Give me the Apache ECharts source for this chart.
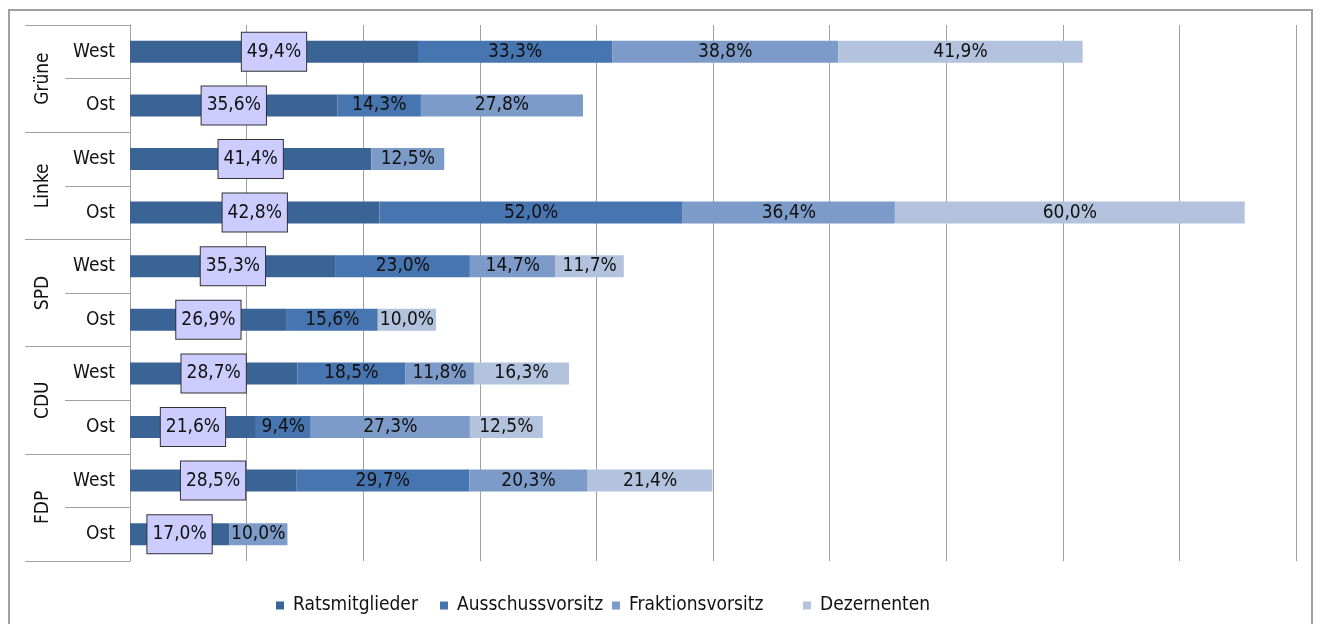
<!DOCTYPE html>
<html>
<head>
<meta charset="utf-8">
<script src="https://cdn.jsdelivr.net/npm/echarts@6/dist/echarts.min.js"></script>
<style>
    html, body { margin: 0; padding: 0; background: #fff; }
    #chart { width: 1319px; height: 624px; }
</style>
</head>
<body>
<div id="chart"></div>
<script>
// Daten
var groups = ['Grüne', 'Linke', 'SPD', 'CDU', 'FDP'];
var regions = ['West', 'Ost'];
var seriesNames = ['Ratsmitglieder', 'Ausschussvorsitz', 'Fraktionsvorsitz', 'Dezernenten'];
var ratsmitglieder = [49.4, 35.6, 41.4, 42.8, 35.3, 26.9, 28.7, 21.6, 28.5, 17.0];
var ausschussvorsitz = [33.3, 14.3, 0, 52.0, 23.0, 15.6, 18.5, 9.4, 29.7, 0];
var fraktionsvorsitz = [38.8, 27.8, 12.5, 36.4, 14.7, 0, 11.8, 27.3, 20.3, 10.0];
var dezernenten = [41.9, 0, 0, 60.0, 11.7, 10.0, 16.3, 12.5, 21.4, 0];
var colors = ['#3b6496', '#4775b0', '#7c9bc8', '#b3c3de'];
// x-Position der Legendeneintraege
var legendLeft = [276, 440, 612, 803];

var font = "'Liberation Sans Narrow', 'DejaVu Sans Condensed', sans-serif";

var categories = [];
for (var i = 0; i < groups.length; i++) {
    for (var j = 0; j < regions.length; j++) {
        categories.push(groups[i] + ' ' + regions[j]);
    }
}

function fmt(p) {
    if (!p.value) {
        return '';
    }
    return p.value.toFixed(1).replace('.', ',') + '%';
}

function makeSeries(idx, values) {
    var s = {
        name: seriesNames[idx],
        type: 'bar',
        stack: 'total',
        barWidth: 22,
        itemStyle: { color: colors[idx] },
        label: {
            show: true,
            position: 'inside',
            formatter: fmt,
            color: '#111',
            fontFamily: font,
            fontSize: 19
        },
        data: values
    };
    if (idx === 0) {
        // Ratsmitglieder mit Kasten
        s.label.backgroundColor = '#ccccff';
        s.label.borderColor = '#333';
        s.label.borderWidth = 1;
        s.label.padding = [10, 5, 9, 5];
    }
    return s;
}

// eine Legende pro Reihe
var legends = [];
for (var k = 0; k < seriesNames.length; k++) {
    legends.push({
        left: legendLeft[k],
        top: 596,
        padding: 0,
        icon: 'rect',
        itemWidth: 8,
        itemHeight: 8,
        textStyle: {
            fontFamily: font,
            fontSize: 19,
            color: '#111',
            padding: [0, 0, 0, 4]
        },
        data: [seriesNames[k]]
    });
}

var myChart = echarts.init(document.getElementById('chart'));
var option = {
    animation: false,
    grid: {
        left: 130,
        right: 23,
        top: 25,
        bottom: 63,
        containLabel: false,
        outerBoundsMode: 'none'
    },
    graphic: [{
        type: 'rect',
        shape: { x: 9, y: 10, width: 1303, height: 625 },
        style: { fill: 'none', stroke: '#a0a0a0', lineWidth: 2 }
    }],
    legend: legends,
    xAxis: {
        type: 'value',
        min: 0,
        max: 200,
        interval: 20,
        axisLabel: { show: false },
        axisLine: { show: false },
        axisTick: { show: false },
        splitLine: { show: true, lineStyle: { color: '#a0a0a0', width: 1 } }
    },
    yAxis: [{
        type: 'category',
        inverse: true,
        position: 'left',
        data: categories,
        axisLine: { show: true, lineStyle: { color: '#a0a0a0' } },
        axisTick: { show: true, interval: 0, length: 65, lineStyle: { color: '#a0a0a0' } },
        axisLabel: {
            margin: 15,
            interval: 0,
            color: '#111',
            fontFamily: font,
            fontSize: 19,
            formatter: function (v) {
                return v.split(' ')[1];
            }
        }
    }, {
        type: 'category',
        inverse: true,
        position: 'left',
        data: groups,
        axisLine: { show: false },
        axisTick: { show: true, interval: 0, length: 105, lineStyle: { color: '#a0a0a0' } },
        axisLabel: {
            rotate: 90,
            margin: 77,
            interval: 0,
            color: '#111',
            fontFamily: font,
            fontSize: 19
        }
    }],
    series: [
        makeSeries(0, ratsmitglieder),
        makeSeries(1, ausschussvorsitz),
        makeSeries(2, fraktionsvorsitz),
        makeSeries(3, dezernenten)
    ]
};
myChart.setOption(option);
</script>
</body>
</html>
